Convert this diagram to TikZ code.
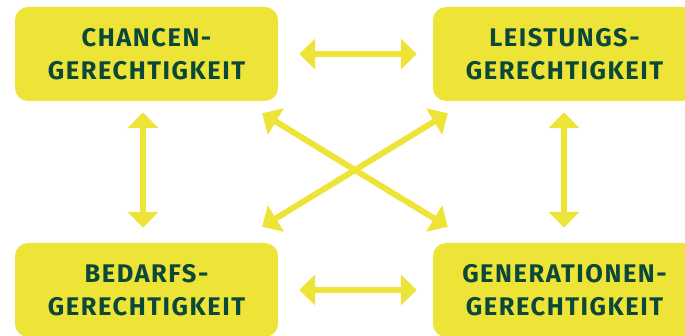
\documentclass[tikz,border=0pt]{standalone}
\usepackage{fontspec}
\newfontfamily\feldschrift[LetterSpace=6]{Fira Sans}
\usetikzlibrary{arrows.meta}
\definecolor{gelb}{RGB}{237,228,55}
\definecolor{dunkelgruen}{RGB}{12,72,58}

\begin{document}
\begin{tikzpicture}[x=1pt, y=-1pt,
		feld/.style={fill=gelb, rounded corners=13pt, minimum width=263pt, minimum height=94pt, inner sep=0pt, align=center, text=dunkelgruen, font=\feldschrift\bfseries\fontsize{25.5}{33}\selectfont},
		pfeil/.style={draw=gelb, line width=6pt, {Triangle[length=16pt,width=30pt]}-{Triangle[length=16pt,width=30pt]}}]
		\useasboundingbox (0,0) rectangle (685,336);
		\clip (0,0) rectangle (685,336);
		
		\node[feld] (CG) at (146.5,54) {CHANCEN-\\GERECHTIGKEIT};
		\node[feld] (LG) at (564.5,54) {LEISTUNGS-\\GERECHTIGKEIT};
		\node[feld] (BG) at (146.5,290) {BEDARFS-\\GERECHTIGKEIT};
		\node[feld] (GG) at (564.5,290) {GENERATIONEN-\\GERECHTIGKEIT};
		
		\draw[pfeil, shorten <=21pt, shorten >=16pt] (CG.east) -- (LG.west);
		\draw[pfeil, shorten <=21pt, shorten >=16pt] (BG.east) -- (GG.west);
		\draw[pfeil, shorten <=11pt, shorten >=15pt] ([xshift=-3.5pt]CG.south) -- ([xshift=-3.5pt]BG.north);
		\draw[pfeil, shorten <=11pt, shorten >=15pt] ([xshift=-0.5pt]LG.south) -- ([xshift=-0.5pt]GG.north);
		
		\draw[pfeil] ([shift={(-16,12)}]CG.south east) -- ([shift={(15,-16)}]GG.north west);
		\draw[pfeil] ([shift={(15,12)}]LG.south west) -- ([shift={(-16,-16)}]BG.north east);
	\end{tikzpicture}
\end{document}
